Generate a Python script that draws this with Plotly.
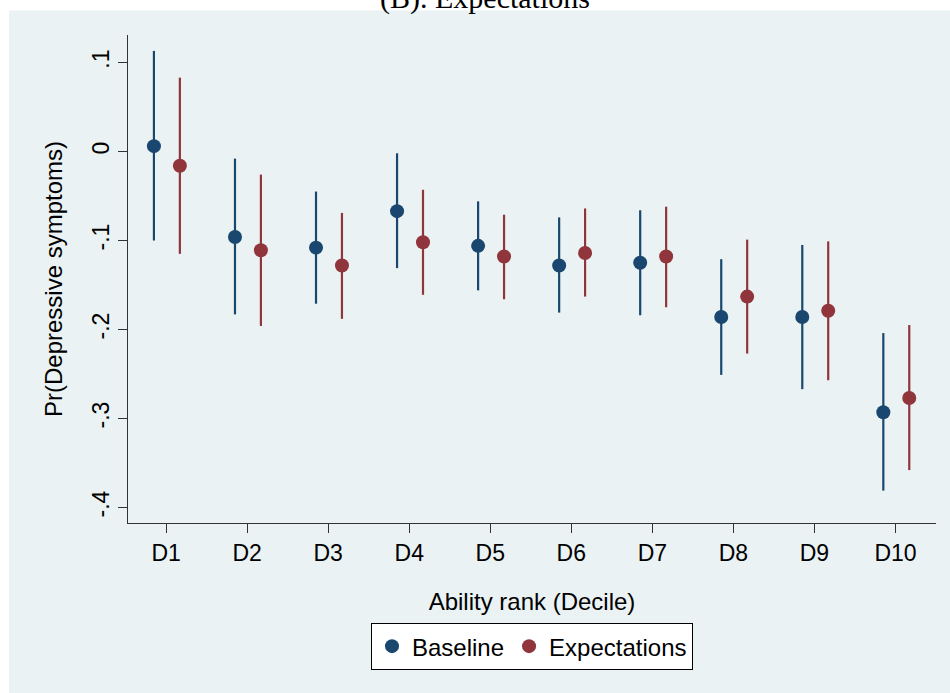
import plotly.graph_objects as go

categories = ["D1", "D2", "D3", "D4", "D5", "D6", "D7", "D8", "D9", "D10"]
y_ticks = [0.1, 0.0, -0.1, -0.2, -0.3, -0.4]
y_tick_labels = [".1", "0", "-.1", "-.2", "-.3", "-.4"]

baseline = [0.006, -0.096, -0.108, -0.067, -0.106, -0.128, -0.125, -0.186, -0.186, -0.293]
baseline_lo = [-0.100, -0.183, -0.171, -0.131, -0.156, -0.181, -0.184, -0.251, -0.267, -0.381]
baseline_hi = [0.113, -0.008, -0.045, -0.002, -0.056, -0.074, -0.066, -0.121, -0.105, -0.204]

expect = [-0.016, -0.111, -0.128, -0.102, -0.118, -0.114, -0.118, -0.163, -0.179, -0.277]
expect_lo = [-0.115, -0.196, -0.188, -0.161, -0.166, -0.163, -0.175, -0.227, -0.257, -0.358]
expect_hi = [0.083, -0.026, -0.069, -0.043, -0.071, -0.064, -0.062, -0.099, -0.101, -0.195]

NAVY = "#1A476F"
MAROON = "#90353B"
BG = "#EAF2F3"
FONT = "Liberation Sans"

idx = list(range(1, len(categories) + 1))
off_b, off_e = -0.15, 0.17

fig = go.Figure()
fig.add_trace(go.Scatter(
    x=[i + off_b for i in idx], y=baseline, mode="markers", name="Baseline",
    marker=dict(color=NAVY, size=14),
    error_y=dict(type="data", symmetric=False,
                 array=[h - m for h, m in zip(baseline_hi, baseline)],
                 arrayminus=[m - l for m, l in zip(baseline, baseline_lo)],
                 color=NAVY, thickness=2.2, width=0),
))
fig.add_trace(go.Scatter(
    x=[i + off_e for i in idx], y=expect, mode="markers", name="Expectations",
    marker=dict(color=MAROON, size=14),
    error_y=dict(type="data", symmetric=False,
                 array=[h - m for h, m in zip(expect_hi, expect)],
                 arrayminus=[m - l for m, l in zip(expect, expect_lo)],
                 color=MAROON, thickness=2.2, width=0),
))

fig.add_shape(type="rect", xref="paper", yref="paper",
              x0=-0.1473, x1=1.02, y0=-0.36, y1=1.050,
              fillcolor=BG, line=dict(width=0), layer="below")

fig.add_annotation(text="(B). Expectations", xref="paper", yref="paper",
                   x=0.442, y=1.037, xanchor="center", yanchor="bottom",
                   showarrow=False,
                   font=dict(family="Liberation Serif", size=30, color="black"))

fig.update_layout(
    width=950, height=693,
    margin=dict(l=128, r=14, t=35, b=170),
    paper_bgcolor="white", plot_bgcolor="white",
    font=dict(family=FONT, size=23, color="black"),
    showlegend=True,
    legend=dict(orientation="h", x=0.5, xanchor="center", y=-0.205, yanchor="top",
                bordercolor="black", borderwidth=1, bgcolor="white",
                font=dict(family=FONT, size=24, color="black")),
    xaxis=dict(range=[0.53, 10.5], tickvals=idx, ticktext=categories,
               showgrid=False, zeroline=False, showline=True, linecolor="#333333",
               linewidth=1, ticks="outside", ticklen=9, tickcolor="#333333",
               tickfont=dict(size=23),
               title=dict(text="Ability rank (Decile)", font=dict(size=24), standoff=28)),
    yaxis=dict(range=[-0.4174, 0.1309], tickvals=y_ticks, ticktext=y_tick_labels,
               tickangle=-90, showgrid=True, gridcolor=BG, gridwidth=2,
               zeroline=False, showline=True, linecolor="#333333", linewidth=1,
               ticks="outside", ticklen=9, tickcolor="#333333",
               tickfont=dict(size=23),
               title=dict(text="Pr(Depressive symptoms)", font=dict(size=24), standoff=18)),
)

fig.write_html("out.html")
